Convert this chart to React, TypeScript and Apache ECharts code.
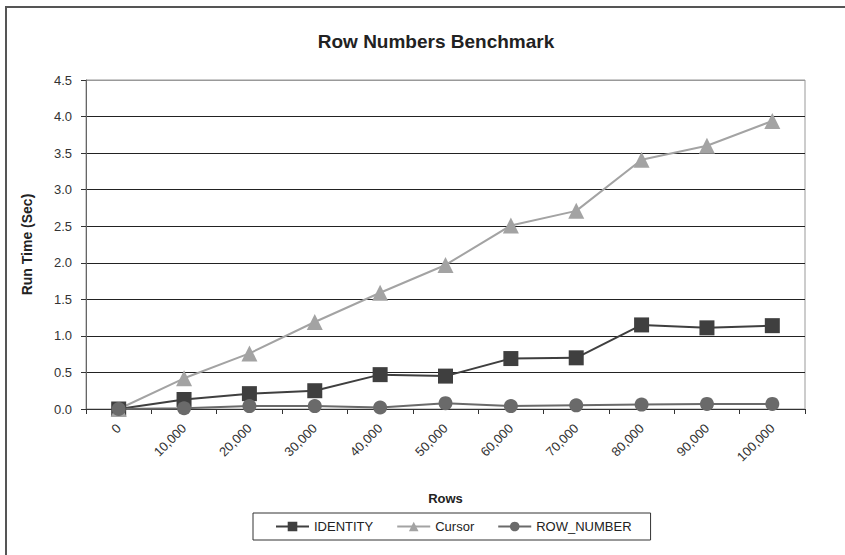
import React, { useEffect, useRef } from "react";
import * as echarts from "echarts";

const categories = ["0", "10,000", "20,000", "30,000", "40,000", "50,000", "60,000", "70,000", "80,000", "90,000", "100,000"];
const identity = [0, 0.13, 0.21, 0.25, 0.47, 0.45, 0.69, 0.70, 1.15, 1.11, 1.14];
const cursor = [0, 0.42, 0.76, 1.19, 1.59, 1.97, 2.51, 2.71, 3.41, 3.60, 3.94];
const rowNumber = [0, 0.01, 0.04, 0.04, 0.02, 0.08, 0.04, 0.05, 0.06, 0.07, 0.07];

const FONT = "'Liberation Sans', Arial, sans-serif";

export default function App() {
  const ref = useRef<HTMLDivElement>(null);
  useEffect(() => {
    if (!ref.current) return;
    const chart = echarts.init(ref.current, null, { renderer: "svg" });
    chart.setOption({
      animation: false,
      backgroundColor: "#fff",
      textStyle: { fontFamily: FONT },
      title: {
        text: "Row Numbers Benchmark",
        left: 431,
        textAlign: "center",
        top: 27,
        textStyle: { fontSize: 19, fontWeight: "bold", color: "#222", fontFamily: FONT },
      },
      graphic: [
        {
          type: "rect",
          shape: { x: 6, y: 7, width: 900, height: 600 },
          style: { fill: "none", stroke: "#555", lineWidth: 2 },
          silent: true,
        },
      ],
      grid: {
        left: 86,
        right: 40,
        top: 80,
        bottom: 146,
        show: true,
        borderColor: "#999",
        borderWidth: 1,
      },
      legend: {
        left: 253,
        top: 513,
        borderColor: "#333",
        borderWidth: 1,
        padding: [7, 19, 7, 22],
        itemGap: 23,
        itemWidth: 33,
        itemHeight: 12,
        textStyle: { fontSize: 13, color: "#222", fontFamily: FONT },
        data: ["IDENTITY", "Cursor", "ROW_NUMBER"],
      },
      xAxis: {
        type: "category",
        data: categories,
        boundaryGap: true,
        name: "Rows",
        nameLocation: "middle",
        nameGap: 83,
        nameTextStyle: { fontSize: 13, fontWeight: "bold", color: "#222", fontFamily: FONT },
        axisLine: { lineStyle: { color: "#333", width: 1 } },
        axisTick: { show: true, interval: 0, length: 5, lineStyle: { color: "#333" } },
        axisLabel: { rotate: 45, fontSize: 13, color: "#333", interval: 0, margin: 17, fontFamily: FONT },
        splitLine: { show: false },
      },
      yAxis: {
        type: "value",
        min: 0,
        max: 4.5,
        interval: 0.5,
        name: "Run Time (Sec)",
        nameLocation: "middle",
        nameGap: 52,
        nameTextStyle: { fontSize: 14, fontWeight: "bold", color: "#222", fontFamily: FONT },
        axisLine: { show: true, lineStyle: { color: "#666", width: 1 } },
        axisTick: { show: true, length: 5, lineStyle: { color: "#333" } },
        axisLabel: {
          fontSize: 13,
          color: "#333",
          margin: 14,
          fontFamily: FONT,
          formatter: (v: number) => v.toFixed(1),
        },
        splitLine: {
          show: true,
          lineStyle: {
            color: ["#222", "#222", "#222", "#222", "#222", "#222", "#222", "#222", "#222", "#999"],
            width: 1,
          },
        },
      },
      series: [
        {
          name: "IDENTITY",
          type: "line",
          data: identity,
          symbol: "rect",
          symbolSize: 15,
          itemStyle: { color: "#3f3f3f" },
          lineStyle: { color: "#3f3f3f", width: 2 },
        },
        {
          name: "Cursor",
          type: "line",
          data: cursor,
          symbol: "triangle",
          symbolSize: 16,
          itemStyle: { color: "#a3a3a3" },
          lineStyle: { color: "#a3a3a3", width: 2 },
        },
        {
          name: "ROW_NUMBER",
          type: "line",
          data: rowNumber,
          symbol: "circle",
          symbolSize: 14,
          itemStyle: { color: "#6a6a6a" },
          lineStyle: { color: "#6a6a6a", width: 2 },
        },
      ],
    });
    return () => chart.dispose();
  }, []);
  return (
    <div
      ref={ref}
      style={{ position: "absolute", left: 0, top: 0, width: 845, height: 555 }}
    />
  );
}
